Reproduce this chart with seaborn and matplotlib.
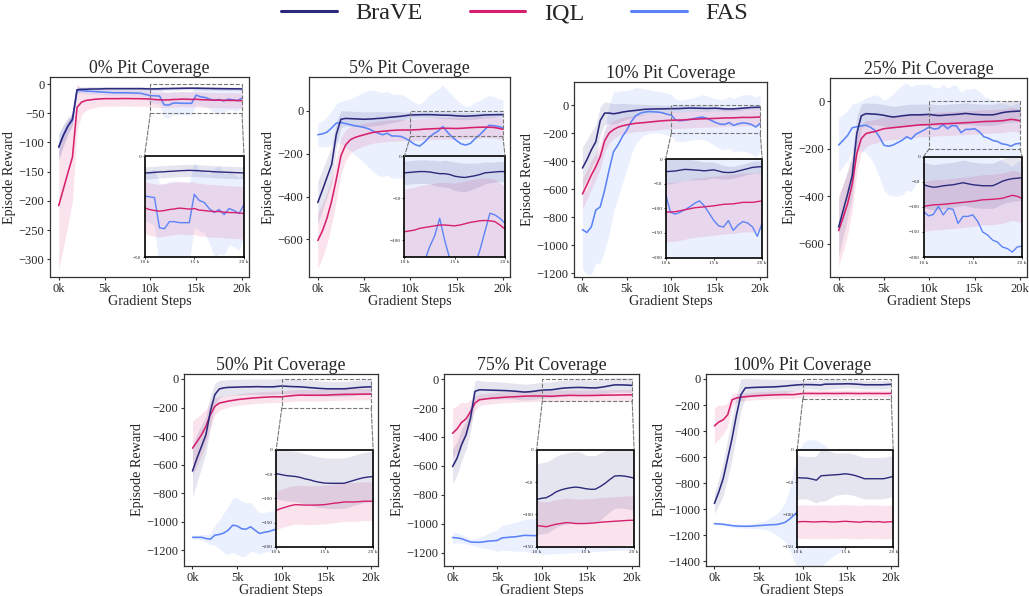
import numpy as np
import pandas as pd
import matplotlib
matplotlib.use("Agg")
import matplotlib.pyplot as plt
import seaborn as sns
from matplotlib.patches import ConnectionPatch, Rectangle
from matplotlib.ticker import FuncFormatter
from matplotlib.lines import Line2D

sns.set_style("white")
plt.rcParams["font.family"] = ["Liberation Serif", "DejaVu Serif"]
plt.rcParams["axes.unicode_minus"] = True

# ---------------------------------------------------------------- data
# gradient steps (thousands)
STEPS_K = [0, 0.5, 1, 1.5, 2, 2.5, 3, 3.5, 4, 4.5,
           5, 5.5, 6, 6.5, 7, 7.5, 8, 8.5, 9, 9.5,
           10, 10.5, 11, 11.5, 12, 12.5, 13, 13.5, 14, 14.5,
           15, 15.5, 16, 16.5, 17, 17.5, 18, 18.5, 19, 19.5,
           20]

METHODS = ["BraVE", "IQL", "FAS"]
COLORS = {"BraVE": "#2c2a7c", "IQL": "#d6206d", "FAS": "#5c84f7"}
COVERAGE = ["0%", "5%", "10%", "25%", "50%", "75%", "100%"]

# ---- 0% pit coverage
brave_mean_p00 = [-108, -88, -72, -60, -10, -9, -9, -8.5, -8.5, -8.5,
                  -8, -8, -8, -8, -8, -8, -8, -8, -8, -8.2,
                  -8.4, -8.3, -8.1, -7.9, -7.8, -7.6, -7.5, -7.3, -7.2, -7.1,
                  -7.2, -7.3, -7.5, -7.6, -7.8, -7.9, -8.0, -8.1, -8.2, -8.3,
                  -8.4]
brave_sd_p00 = [22, 18, 14, 10, 5, 4, 4, 4, 4, 4,
                4, 4, 4, 4, 4, 4, 4, 4, 4, 3.5,
                3, 3, 3, 3, 3, 3, 3, 3, 3, 3,
                3, 3, 3, 3, 3, 3, 3, 3, 3, 3,
                3]
iql_mean_p00 = [-208, -180, -152, -125, -40, -31, -28, -27, -26, -25.5,
                -25, -25, -25, -25, -24.8, -24.8, -25, -25, -25.2, -25.4,
                -25.7, -26.5, -27, -27.3, -27, -26.5, -26.2, -25.8, -26, -26.3,
                -26, -26.8, -27, -27.3, -27.5, -27.5, -27.8, -28, -28, -28.2,
                -28.5]
iql_sd_p00 = [110, 100, 90, 75, 40, 22, 17, 15, 14, 13,
              13, 13, 13, 13, 13, 13, 13, 13, 13, 13,
              13, 13, 13, 13, 13, 13, 13, 13, 13, 13,
              13, 13, 13, 13, 13, 13, 13, 13, 13, 13,
              13]
fas_mean_p00 = [-108, -88, -72, -62, -10, -11, -12, -12.5, -13, -13.5,
                -14, -14.5, -15, -15, -15, -15, -15.5, -15.5, -16, -18,
                -19.8, -20.2, -20.6, -35.5, -36, -32.5, -32.5, -33, -33, -33,
                -19, -22, -23, -26, -28, -26.5, -29, -26, -27, -28.5,
                -24]
fas_sd_p00 = [22, 18, 14, 10, 5, 5, 5, 5, 5, 5,
              5, 5, 5, 5, 5, 5, 5, 5, 6, 8,
              12, 13, 14, 22, 22, 20, 20, 20, 20, 20,
              16, 15, 15, 17, 22, 22, 20, 18, 18, 18,
              16]

# ---- 5% pit coverage
brave_mean_p05 = [-428, -370, -310, -250, -110, -40, -36, -37, -38, -39,
                  -40, -39, -38, -36, -35, -32, -30, -28, -26, -23,
                  -20, -19.5, -19, -18.5, -18.5, -19, -20, -21, -21, -22,
                  -24, -25, -25.5, -24.5, -23.5, -22, -20, -19.5, -19, -18.5,
                  -18.5]
brave_sd_p05 = [100, 95, 90, 85, 60, 40, 35, 35, 35, 35,
                35, 34, 33, 32, 30, 28, 26, 24, 20, 16,
                14, 14, 14, 14, 14, 14, 15, 15, 16, 16,
                17, 17, 17, 16, 15, 14, 13, 12, 12, 12,
                12]
iql_mean_p05 = [-605, -560, -500, -420, -320, -210, -160, -136, -125, -118,
                -112, -106, -101, -98, -96, -94, -92, -91, -90, -90,
                -90, -89, -88, -86, -85, -84, -83, -82, -82, -82.5,
                -83, -82, -80.6, -79, -78, -77, -76.6, -77, -78, -82,
                -86.7]
iql_sd_p05 = [130, 125, 120, 110, 100, 85, 72, 62, 58, 55,
              52, 50, 50, 50, 50, 50, 50, 50, 50, 50,
              50, 50, 50, 50, 50, 50, 50, 50, 50, 50,
              50, 50, 50, 50, 50, 50, 50, 50, 50, 50,
              50]
fas_mean_p05 = [-112, -108, -100, -80, -58, -55, -60, -65, -70, -74,
                -78, -85, -95, -105, -112, -105, -118, -118, -120, -130,
                -143, -158, -165, -148, -125, -108, -95, -74, -100, -122,
                -140, -155, -160, -152, -130, -112, -90, -68, -70, -74,
                -80]
fas_sd_p05 = [55, 60, 70, 80, 90, 100, 110, 120, 135, 150,
              165, 180, 190, 195, 195, 195, 195, 195, 195, 195,
              195, 195, 195, 195, 195, 195, 195, 195, 195, 195,
              190, 185, 180, 175, 170, 160, 150, 140, 135, 130,
              130]

# ---- 10% pit coverage
brave_mean_p10 = [-450, -390, -320, -262, -110, -57, -57, -62, -57, -50,
                  -45, -41, -38, -34, -30, -29, -28, -27, -27, -26,
                  -25.7, -25, -24.3, -22.5, -21, -21.5, -22.3, -23, -24, -23,
                  -22, -24.5, -27, -27.5, -27, -24.5, -22, -19.5, -17, -16,
                  -15.5]
brave_sd_p10 = [150, 140, 130, 120, 100, 80, 75, 72, 68, 62,
                55, 50, 45, 40, 36, 33, 30, 28, 27, 26,
                25, 25, 24, 23, 22, 21, 20, 19, 18, 17,
                16, 15, 14, 13, 12, 12, 12, 12, 12, 12,
                12]
iql_mean_p10 = [-635, -570, -500, -440, -368, -255, -200, -175, -158, -148,
                -141, -135, -130, -127, -125, -121, -118, -115, -112, -110,
                -108, -107.5, -107, -105, -103, -101, -99, -98, -97, -96,
                -95, -93.5, -92, -91.5, -91, -89.5, -88, -88, -88, -86.5,
                -85]
iql_sd_p10 = [110, 105, 100, 95, 90, 80, 70, 65, 60, 60,
              60, 60, 60, 60, 60, 60, 60, 60, 60, 60,
              60, 60, 60, 60, 60, 60, 60, 60, 60, 60,
              60, 60, 60, 60, 60, 60, 60, 60, 60, 60,
              60]
fas_mean_p10 = [-890, -910, -870, -750, -727, -607, -463, -332, -284, -224,
                -177, -117, -75, -58, -50, -46, -48, -50, -55, -65,
                -72, -108, -112, -108, -103, -97, -90, -85, -95, -110,
                -125, -136, -138, -125, -145, -134, -127, -130, -138, -157,
                -130]
fas_sd_p10 = [280, 300, 340, 380, 400, 430, 460, 430, 380, 330,
              280, 230, 200, 180, 165, 155, 150, 150, 150, 150,
              150, 150, 150, 150, 150, 150, 155, 160, 160, 165,
              170, 175, 180, 185, 190, 195, 200, 205, 210, 215,
              200]

# ---- 25% pit coverage
brave_mean_p25 = [-530, -460, -390, -313, -137, -62, -53, -54, -55, -57,
                  -60, -64, -67, -65, -62, -60, -58, -58, -58, -57,
                  -56, -59, -61, -60, -58, -57, -56, -54, -52, -54,
                  -56, -57, -58, -58, -58, -54, -49, -46, -44, -43,
                  -42]
brave_sd_p25 = [120, 110, 100, 90, 70, 50, 45, 45, 45, 45,
                45, 45, 45, 45, 45, 45, 45, 45, 45, 45,
                45, 45, 45, 45, 45, 45, 45, 45, 45, 45,
                45, 45, 45, 45, 45, 45, 45, 45, 45, 45,
                45]
iql_mean_p25 = [-545, -490, -430, -350, -221, -158, -137, -132, -128, -122,
                -116, -114, -112, -110, -108, -106, -104, -102, -100, -99.5,
                -99, -97.5, -96, -95.5, -95, -94, -93, -92, -91, -90,
                -89, -87.5, -86, -85.5, -85, -84, -83, -80, -77, -79,
                -83]
iql_sd_p25 = [150, 140, 130, 110, 80, 60, 55, 50, 50, 50,
              50, 50, 50, 50, 50, 50, 50, 50, 50, 50,
              50, 50, 50, 50, 50, 50, 50, 50, 50, 50,
              50, 50, 50, 50, 50, 50, 50, 50, 50, 50,
              50]
fas_mean_p25 = [-185, -165, -144, -112, -108, -104, -102, -110, -123, -151,
                -186, -190, -185, -175, -165, -150, -160, -140, -130, -120,
                -109, -118, -115, -99, -116, -103, -105, -133, -119, -119,
                -116, -129, -150, -156, -166, -170, -180, -183, -190, -180,
                -178]
fas_sd_p25 = [115, 110, 105, 100, 100, 105, 115, 130, 150, 170,
              190, 205, 215, 225, 230, 225, 220, 210, 200, 190,
              180, 175, 170, 170, 170, 170, 170, 170, 170, 170,
              170, 170, 170, 170, 170, 170, 170, 170, 170, 170,
              170]

# ---- 50% pit coverage
brave_mean_p50 = [-645, -556, -474, -392, -227, -110, -70, -62, -59, -58,
                  -57, -56, -55, -55, -54, -54, -55, -55, -55, -52,
                  -49, -51, -53, -54, -55, -57, -60, -62, -65, -67,
                  -68.5, -69, -69, -69, -69, -66, -63, -60, -57.5, -56,
                  -55]
brave_sd_p50 = [180, 170, 150, 130, 110, 80, 60, 55, 55, 55,
                55, 55, 55, 55, 55, 55, 55, 55, 55, 55,
                52, 52, 52, 52, 52, 52, 52, 52, 52, 52,
                52, 52, 52, 52, 52, 52, 52, 52, 52, 52,
                52]
iql_mean_p50 = [-485, -440, -392, -333, -250, -192, -169, -162, -155, -150,
                -145, -141, -138, -135, -132, -130, -128, -126.5, -125, -125,
                -125, -121, -118, -115, -113, -113.5, -114, -114, -114, -113.5,
                -113, -111.5, -110, -109, -107.5, -107.5, -107.5, -107, -106, -106,
                -106]
iql_sd_p50 = [190, 170, 150, 120, 90, 60, 50, 45, 42, 40,
              40, 40, 40, 40, 40, 40, 40, 40, 40, 40,
              40, 40, 40, 40, 40, 40, 40, 40, 40, 40,
              40, 40, 40, 40, 40, 40, 40, 40, 40, 40,
              40]
fas_mean_p50 = [-1110, -1110, -1110, -1118, -1123, -1095, -1090, -1080, -1060, -1025,
                -1030, -1050, -1053, -1036, -1060, -1083, -1075, -1070, -1060, -1050,
                -1048, -1045, -1040, -1040, -1035, -1035, -1030, -1030, -1025, -1025,
                -1020, -1020, -1020, -1015, -1015, -1010, -1010, -1010, -1005, -1005,
                -1000]
fas_sd_p50 = [15, 15, 20, 25, 40, 70, 100, 140, 170, 190,
              200, 195, 185, 170, 155, 145, 140, 140, 140, 135,
              130, 128, 125, 120, 118, 115, 112, 110, 110, 108,
              105, 105, 105, 100, 100, 100, 100, 100, 100, 100,
              100]

# ---- 75% pit coverage
brave_mean_p75 = [-605, -548, -455, -386, -270, -85, -74, -75, -76, -77,
                  -78, -79, -80, -82, -84, -87, -90, -88, -85, -80,
                  -76.6, -75, -74, -70, -65, -62, -60, -58.5, -57.6, -58.5,
                  -60, -61, -61, -57, -52, -46, -40.6, -40, -40.6, -42,
                  -43.7]
brave_sd_p75 = [120, 115, 110, 100, 90, 75, 65, 60, 60, 60,
                60, 58, 56, 55, 55, 55, 55, 55, 55, 55,
                55, 55, 55, 55, 55, 55, 55, 55, 55, 55,
                52, 52, 52, 52, 50, 50, 50, 50, 50, 50,
                50]
iql_mean_p75 = [-375, -345, -300, -275, -225, -166, -143, -139, -135, -132,
                -130, -127, -125, -123, -122, -120, -118, -117.5, -117, -117,
                -117, -118, -119, -117, -115, -114, -112.6, -113, -114, -114,
                -114, -113.5, -113, -112, -111.5, -111, -110.5, -110, -109.5, -109,
                -109]
iql_sd_p75 = [170, 160, 140, 110, 80, 50, 40, 38, 38, 38,
              38, 38, 38, 38, 38, 38, 38, 38, 38, 38,
              38, 38, 38, 38, 38, 38, 38, 38, 38, 38,
              38, 38, 38, 38, 38, 38, 38, 38, 38, 38,
              38]
fas_mean_p75 = [-1095, -1098, -1103, -1115, -1126, -1128, -1128, -1125, -1120, -1118,
                -1115, -1098, -1095, -1092, -1090, -1085, -1080, -1081, -1082, -1082,
                -1082, -1080, -1078, -1076, -1075, -1073, -1072, -1070, -1068, -1066,
                -1065, -1063, -1062, -1060, -1058, -1056, -1055, -1053, -1052, -1050,
                -1050]
fas_sd_p75 = [40, 35, 30, 25, 20, 25, 35, 45, 55, 65,
              75, 85, 90, 95, 100, 105, 110, 115, 120, 125,
              130, 130, 130, 130, 130, 130, 130, 130, 130, 130,
              130, 130, 130, 130, 130, 130, 130, 130, 130, 130,
              130]

# ---- 100% pit coverage
brave_mean_p100 = [-955, -866, -763, -609, -455, -275, -120, -69, -67, -65,
                   -64, -63, -62, -61, -60, -57, -55, -51, -48, -45,
                   -43, -43.5, -43.7, -45, -47, -40, -39.6, -39, -38.6, -38,
                   -37, -38, -39.6, -42, -44.7, -44.7, -44.7, -44.7, -44.7, -43,
                   -41]
brave_sd_p100 = [80, 100, 130, 150, 160, 150, 120, 75, 70, 68,
                 66, 64, 62, 60, 58, 55, 52, 48, 44, 40,
                 35, 33, 33, 34, 36, 40, 40, 36, 33, 32,
                 32, 32, 32, 32, 32, 32, 32, 32, 32, 32,
                 32]
iql_mean_p100 = [-360, -330, -313, -275, -160, -146, -140, -136, -133, -130,
                 -128, -126, -125, -123, -122, -121, -120, -120, -120, -115,
                 -111.5, -111, -111, -111.5, -111.5, -111, -111, -111.5, -111.5, -111,
                 -110.5, -111, -111.5, -112, -111, -111, -111.5, -111, -112, -111.5,
                 -111]
iql_sd_p100 = [140, 130, 110, 90, 50, 35, 30, 30, 30, 30,
               30, 30, 30, 30, 30, 30, 30, 30, 30, 28,
               26, 26, 26, 26, 26, 26, 26, 26, 26, 26,
               26, 26, 26, 26, 26, 26, 26, 26, 26, 26,
               26]
fas_mean_p100 = [-1110, -1112, -1115, -1120, -1125, -1128, -1130, -1130, -1130, -1128,
                 -1125, -1123, -1120, -1118, -1117, -1110, -1100, -1075, -1045, -1012,
                 -990, -980, -975, -970, -965, -962, -960, -958, -955, -952,
                 -950, -948, -946, -944, -942, -940, -938, -936, -935, -934,
                 -933]
fas_sd_p100 = [10, 10, 10, 12, 12, 14, 15, 15, 16, 20,
               25, 30, 40, 60, 80, 110, 150, 230, 350, 450,
               500, 510, 510, 500, 480, 450, 420, 400, 380, 360,
               340, 320, 300, 280, 260, 250, 240, 230, 220, 210,
               200]

# axis ranges and ticks for each panel
MAIN_YLIM = [(-330, 12), (-775, 157), (-1228, 165), (-740, 97),
             (-1311, 35), (-1292, 35), (-1435, 38)]
MAIN_YTICKS = [[-300, -250, -200, -150, -100, -50, 0],
               [-600, -400, -200, 0],
               [-1200, -1000, -800, -600, -400, -200, 0],
               [-600, -400, -200, 0],
               [-1200, -1000, -800, -600, -400, -200, 0],
               [-1200, -1000, -800, -600, -400, -200, 0],
               [-1400, -1200, -1000, -800, -600, -400, -200, 0]]
ZOOM_YLIM = [(-50, 0), (-120, 0), (-200, 0), (-200, 0),
             (-200, 0), (-150, 0), (-150, 0)]
ZOOM_YTICKS = [[-50, 0], [-100, -50, 0],
               [-200, -150, -100, -50, 0], [-200, -150, -100, -50, 0],
               [-200, -150, -100, -50, 0], [-150, -100, -50, 0],
               [-150, -100, -50, 0]]
ZOOM_XLIM = (10000, 20000)

SERIES = {
    "0%": {"BraVE": (brave_mean_p00, brave_sd_p00), "IQL": (iql_mean_p00, iql_sd_p00),
           "FAS": (fas_mean_p00, fas_sd_p00)},
    "5%": {"BraVE": (brave_mean_p05, brave_sd_p05), "IQL": (iql_mean_p05, iql_sd_p05),
           "FAS": (fas_mean_p05, fas_sd_p05)},
    "10%": {"BraVE": (brave_mean_p10, brave_sd_p10), "IQL": (iql_mean_p10, iql_sd_p10),
            "FAS": (fas_mean_p10, fas_sd_p10)},
    "25%": {"BraVE": (brave_mean_p25, brave_sd_p25), "IQL": (iql_mean_p25, iql_sd_p25),
            "FAS": (fas_mean_p25, fas_sd_p25)},
    "50%": {"BraVE": (brave_mean_p50, brave_sd_p50), "IQL": (iql_mean_p50, iql_sd_p50),
            "FAS": (fas_mean_p50, fas_sd_p50)},
    "75%": {"BraVE": (brave_mean_p75, brave_sd_p75), "IQL": (iql_mean_p75, iql_sd_p75),
            "FAS": (fas_mean_p75, fas_sd_p75)},
    "100%": {"BraVE": (brave_mean_p100, brave_sd_p100), "IQL": (iql_mean_p100, iql_sd_p100),
             "FAS": (fas_mean_p100, fas_sd_p100)},
}

# ---------------------------------------------------------------- layout
W, H = 1029, 596
# axes boxes in pixels: left, top, right, bottom
BOXES = [(50, 77, 249, 277), (309, 77, 510, 277), (574, 82, 767, 277), (830, 78, 1027, 277),
         (184, 374, 378, 566), (444, 374, 639, 566), (706, 374, 898, 566)]

steps = np.array(STEPS_K) * 1000.0
DRAW_ORDER = ["FAS", "IQL", "BraVE"]
SPINE = "#333333"


def draw_series(a, data, lw):
    for m in DRAW_ORDER:
        mean, sd = np.array(data[m][0]), np.array(data[m][1])
        a.fill_between(steps, mean - sd, mean + sd, color=COLORS[m], alpha=0.12, lw=0)
    for m in DRAW_ORDER:
        df = pd.DataFrame({"step": steps, "reward": data[m][0]})
        sns.lineplot(data=df, x="step", y="reward", ax=a, color=COLORS[m], lw=lw,
                     legend=False)


fig = plt.figure(figsize=(W / 100, H / 100), dpi=100)

for i, cov in enumerate(COVERAGE):
    l, t, r, b = BOXES[i]
    ax = fig.add_axes([l / W, (H - b) / H, (r - l) / W, (b - t) / H])
    draw_series(ax, SERIES[cov], 1.15)
    ax.set_xlim(-950, 20760)
    ax.set_ylim(*MAIN_YLIM[i])
    ax.set_yticks(MAIN_YTICKS[i])
    ax.set_xticks([0, 5000, 10000, 15000, 20000])
    ax.xaxis.set_major_formatter(FuncFormatter(lambda v, p: f"{int(round(v / 1000))}k"))
    ax.tick_params(axis="both", which="major", labelsize=9, pad=1.5, length=2.5,
                   width=0.8, color=SPINE, bottom=True, left=True, direction="out")
    ax.set_xlabel("Gradient Steps", fontsize=10.2, labelpad=0)
    ax.set_ylabel("Episode Reward", fontsize=10.2, labelpad=2)
    ax.set_title(f"{cov} Pit Coverage", fontsize=12.8, pad=3)
    for s in ax.spines.values():
        s.set_color(SPINE)
        s.set_linewidth(0.9)

    # zoomed view of the last 10k steps
    axins = ax.inset_axes([0.475, 0.1, 0.5, 0.505])
    axins.set_facecolor("white")
    draw_series(axins, SERIES[cov], 1.0)
    ylo, yhi = ZOOM_YLIM[i]
    axins.set_xlim(*ZOOM_XLIM)
    axins.set_ylim(ylo, yhi)
    axins.set_xticks([10000, 15000, 20000])
    axins.set_yticks(ZOOM_YTICKS[i])
    axins.xaxis.set_major_formatter(FuncFormatter(lambda v, p: f"{int(round(v / 1000))} k"))
    axins.tick_params(axis="both", labelsize=3.8, pad=1, length=1.5, width=0.6,
                      bottom=True, left=True, direction="out")
    axins.set_xlabel("")
    axins.set_ylabel("")
    for s in axins.spines.values():
        s.set_color("black")
        s.set_linewidth(1.2)

    rect = Rectangle((ZOOM_XLIM[0], ylo), ZOOM_XLIM[1] - ZOOM_XLIM[0], yhi - ylo,
                     fill=False, ec="#777777", ls="--", lw=0.8, zorder=6)
    ax.add_patch(rect)
    for xa, xb in [(ZOOM_XLIM[0], 0), (ZOOM_XLIM[1], 1)]:
        cp = ConnectionPatch(xyA=(xa, ylo), coordsA=ax.transData,
                             xyB=(xb, 1), coordsB=axins.transAxes,
                             color="#777777", ls="--", lw=0.8, zorder=6)
        ax.add_artist(cp)

handles = [Line2D([0], [0], color=COLORS[m], lw=2.2) for m in METHODS]
fig.legend(handles, METHODS, loc="upper center", bbox_to_anchor=(0.5, 1.0), ncol=3,
           frameon=False, fontsize=17.5, handlelength=2.3, handletextpad=0.75,
           columnspacing=1.95, borderpad=0.1, borderaxespad=0.0)

fig.savefig("out.png", dpi=100)
